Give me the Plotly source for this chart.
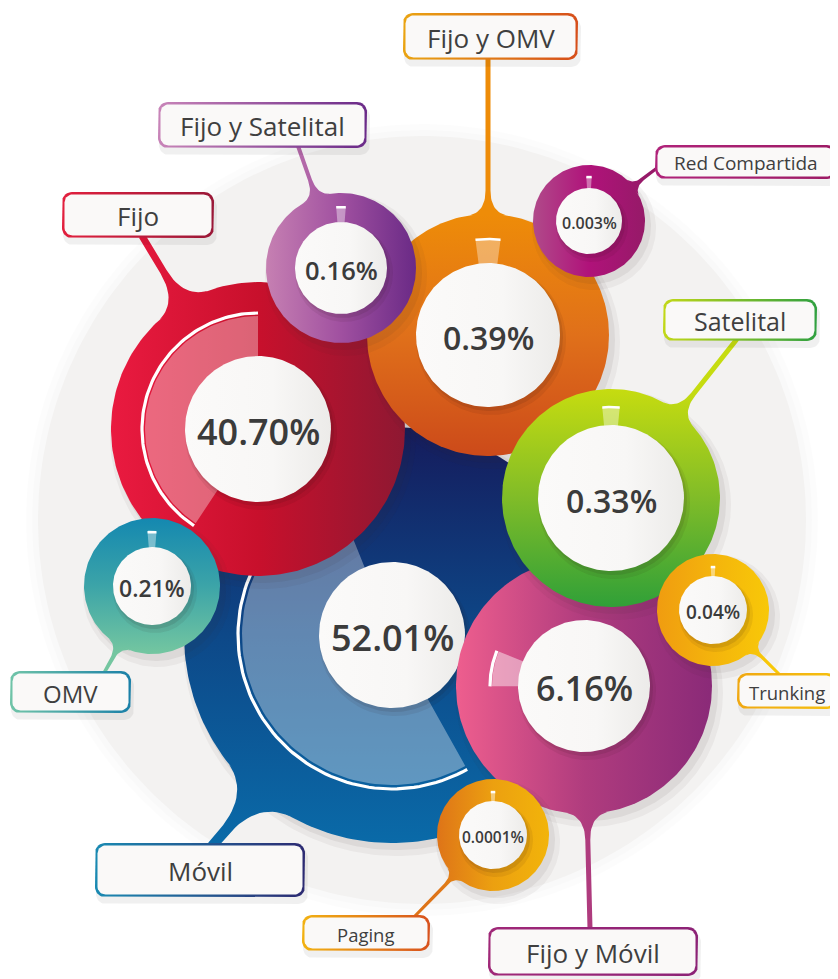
import numpy as np
import plotly.graph_objects as go

W, H = 838, 979
M = 8  # margen por defecto del <body> de la página

# datos: participación por tipo de concesión (%)
categorias = ['Móvil', 'Fijo', 'Fijo y OMV', 'Fijo y Satelital', 'Fijo y Móvil',
              'Satelital', 'Red Compartida', 'Trunking', 'Paging', 'OMV']
porcentajes = [52.01, 40.70, 0.39, 0.16, 6.16, 0.33, 0.003, 0.04, 0.0001, 0.21]

# geometria de cada burbuja (px): cx, cy, radio, radio blanco, radio cuña, arco blanco, inicio cuña, ancho min, fuente
burbujas = {
    'Móvil':            (392, 635, 208, 73, 150, 154, 22, 0, 36),
    'Fijo':             (258, 429, 147, 73, 113, 116, 0, 0, 36),
    'Fijo y OMV':       (488, 335, 121, 72, 96, None, None, 15, 32),
    'Fijo y Satelital': (341, 268, 75, 46, 61, None, None, 9, 25.5),
    'Fijo y Móvil':     (584, 686, 128, 66, 92, 94, 68, 0, 34),
    'Satelital':        (611, 498, 109, 73, 91, None, None, 11, 32),
    'Red Compartida':   (589, 221, 56, 33, 44, None, None, 7, 16),
    'Trunking':         (713, 610, 56, 34, 43, None, None, 6, 19),
    'Paging':           (493, 835, 56, 34, 43, None, None, 6, 15.5),
    'OMV':              (152, 586, 68, 39, 54, None, None, 9.5, 23),
}

# cajas de etiqueta: x0, y0, x1, y1, fuente ; extremo del tallo, grosor, apertura del cuello
cajas = {
    'Móvil':            ((95, 843, 305, 897, 26), (212, 846), 10, 40),
    'Fijo':             ((62, 192, 214, 238, 26), (142, 236), 7, 28),
    'Fijo y OMV':       ((403, 13, 578, 60, 26), (488, 58), 5, 18),
    'Fijo y Satelital': ((158, 102, 367, 148, 26), (298, 146), 4, 14),
    'Fijo y Móvil':     ((488, 927, 698, 976, 26), (590, 929), 5, 20),
    'Satelital':        ((663, 299, 817, 341, 25), (737, 339), 5, 18),
    'Red Compartida':   ((655, 145, 837, 179, 19), (657, 168), 3, 10),
    'Trunking':         ((737, 673, 837, 709, 18.5), (780, 675), 3, 10),
    'Paging':           ((302, 915, 430, 951, 18.5), (414, 917), 3, 10),
    'OMV':              ((10, 671, 131, 713, 24), (104, 673), 3.5, 12),
}

# colores: (tipo de degradado, escala burbuja, escala borde caja, alfa cuña)
estilos = {
    'Móvil':            ('vertical', ['#151b5c', '#0d4888', '#0a6aa8'], ['#1a8ab2', '#2c2a72'], 0.35),
    'Fijo':             ('horizontal', ['#ea1a40', '#c8102c', '#8e1832'], ['#e2203e', '#9a1838'], 0.35),
    'Fijo y OMV':       ('vertical', ['#ee8c08', '#e0701a', '#cc4a1a'], ['#eaa412', '#d64e1a'], 0.35),
    'Fijo y Satelital': ('horizontal', ['#c680b2', '#a050a0', '#6a2a86'], ['#c884b8', '#6a2a88'], 0.4),
    'Fijo y Móvil':     ('horizontal', ['#ee5e8e', '#b03c7e', '#8a2a78'], ['#a02878', '#8c2276'], 0.45),
    'Satelital':        ('vertical', ['#c6dc10', '#80bc28', '#30a038'], ['#c2d818', '#30a040'], 0.4),
    'Red Compartida':   ('horizontal', ['#b04a8a', '#b0127a', '#961a68'], ['#b0237a', '#9c1a64'], 0.4),
    'Trunking':         ('horizontal', ['#f09c10', '#f4b40c', '#f8c808'], ['#f0a812', '#f6c00e'], 0.45),
    'Paging':           ('horizontal', ['#de7418', '#eca010', '#f2b40a'], ['#f2b212', '#d8521e'], 0.45),
    'OMV':              ('vertical', ['#1488b0', '#3ca4a8', '#74c6a0'], ['#70c4a8', '#1a80a8'], 0.4),
}

fig = go.Figure()


def escala(cols):
    return [[i / (len(cols) - 1), c] for i, c in enumerate(cols)]


def area(x, y, color=None, grad=None):
    kw = dict(x=x, y=y, mode='lines', line=dict(width=0), fill='toself',
              hoverinfo='skip', showlegend=False)
    if grad is not None:
        kw['fillgradient'] = grad
    else:
        kw['fillcolor'] = color
    fig.add_trace(go.Scatter(**kw))


def circulo(cx, cy, r, n=240):
    t = np.linspace(0, 2 * np.pi, n)
    return cx + r * np.cos(t), cy + r * np.sin(t)


def polar(cx, cy, r, ang):
    # ang en grados, antihorario desde las 12
    a = np.radians(ang)
    return cx - r * np.sin(a), cy - r * np.cos(a)


def sector(cx, cy, r0, r1, a0, a1, n=90):
    a = np.linspace(a0, a1, n)
    xo, yo = polar(cx, cy, r1, a)
    xi, yi = polar(cx, cy, r0, a[::-1])
    return np.r_[xo, xi, xo[:1]], np.r_[yo, yi, yo[:1]]


def rrect(x0, y0, x1, y1, rad, n=10):
    xs, ys = [], []
    for ccx, ccy, a0 in [(x1 - rad, y0 + rad, -90), (x1 - rad, y1 - rad, 0),
                         (x0 + rad, y1 - rad, 90), (x0 + rad, y0 + rad, 180)]:
        t = np.radians(np.linspace(a0, a0 + 90, n))
        xs += list(ccx + rad * np.cos(t))
        ys += list(ccy + rad * np.sin(t))
    return xs + xs[:1], ys + ys[:1]


def bezier(p0, k, p1, n=16):
    t = np.linspace(0, 1, n)[:, None]
    return (1 - t) ** 2 * p0 + 2 * (1 - t) * t * k + t ** 2 * p1


def cuello(cx, cy, R, fin, w, s):
    c = np.array([cx, cy], float)
    e = np.array(fin, float)
    u = (e - c) / np.linalg.norm(e - c)
    v = np.array([-u[1], u[0]])
    d = np.sqrt(R ** 2 - s ** 2)
    h = s * 1.3
    pts = []
    for sg in (1, -1):
        p = c + d * u + sg * s * v
        st = c + (R + h) * u + sg * w / 2 * v
        k = c + (R + 0.12 * h) * u + sg * w / 2 * v
        pts.append((p, bezier(p, k, st), e + sg * w / 2 * v))
    (p1, b1, e1), (p2, b2, e2) = pts
    poly = np.vstack([b1, e1, e2, b2[::-1], p1])
    return poly[:, 0], poly[:, 1]


def grad_burbuja(nombre):
    cx, cy, R = burbujas[nombre][:3]
    tipo, cols = estilos[nombre][0], estilos[nombre][1]
    if tipo == 'horizontal':
        a, b = cx - R, cx + R
    else:
        a, b = cy - R, cy + R
    return dict(type=tipo, colorscale=escala(cols), start=a, stop=b)


def etiqueta_pct(v):
    return ('{:.2f}'.format(v) if v >= 0.01 else '{:g}'.format(v)) + '%'


# fondo circular gris claro
for r, col in [(396, 'rgba(0,0,0,0.010)'), (390, 'rgba(0,0,0,0.012)'), (384, '#f3f2f1')]:
    area(*circulo(422, 520, r), color=col)

anots = []
for nombre, pct in zip(categorias, porcentajes):
    cx, cy, R, ri, rw, ra, a0, dmin, fs = burbujas[nombre]
    alfa = estilos[nombre][3]
    g = grad_burbuja(nombre)
    # sombra
    area(*circulo(cx + 5, cy + 7, R + 6), color='rgba(60,40,40,0.05)')
    area(*circulo(cx + 4, cy + 5, R + 2), color='rgba(60,40,40,0.07)')
    # cuello y tallo
    caja, fin, w, s = cajas[nombre]
    area(*cuello(cx, cy, R, fin, w, s), grad=g)
    # burbuja
    area(*circulo(cx, cy, R), grad=g)
    # cuña proporcional al porcentaje
    ang = max(pct * 3.6, dmin)
    if a0 is None:
        a0 = -ang / 2
    a1 = a0 + ang
    area(*sector(cx, cy, ri - 2, rw, a0, a1), color='rgba(255,255,255,%.2f)' % alfa)
    xa, ya = polar(cx, cy, ra if ra else rw, np.linspace(a0, a1, 90))
    fig.add_trace(go.Scatter(x=xa, y=ya, mode='lines', hoverinfo='skip', showlegend=False,
                             line=dict(color='white', width=3.2 if ra else 2.5)))
    # círculo blanco central con sombra
    area(*circulo(cx + 3, cy + 5, ri + 3), color='rgba(40,20,20,0.07)')
    area(*circulo(cx + 2, cy + 3, ri + 1), color='rgba(40,20,20,0.10)')
    area(*circulo(cx, cy, ri), grad=dict(type='horizontal',
                                         colorscale=[[0, '#fbfaf9'], [0.6, '#f8f7f6'], [1, '#ecebe9']],
                                         start=cx - ri, stop=cx + ri))
    anots.append(dict(x=cx, y=cy + 2, text=etiqueta_pct(pct), showarrow=False,
                      font=dict(family='Open Sans', size=fs, color='#3b3b3b', weight=600)))

# cajas de etiqueta
for nombre in categorias:
    (x0, y0, x1, y1, fs), fin, w, s = cajas[nombre]
    area(*rrect(x0 + 1, y0 + 5, x1 + 3, y1 + 7, 10), color='rgba(0,0,0,0.06)')
    area(*rrect(x0, y0, x1, y1, 10), grad=dict(type='horizontal', colorscale=escala(estilos[nombre][2]),
                                                start=x0, stop=x1))
    area(*rrect(x0 + 2.5, y0 + 2.5, x1 - 2.5, y1 - 2.5, 8), color='#faf9f8')
    anots.append(dict(x=(x0 + x1) / 2, y=(y0 + y1) / 2 + 1, text=nombre, showarrow=False,
                      font=dict(family='Open Sans', size=fs, color='#3f3f3f')))

fig.update_layout(
    width=W - M, height=H - M, margin=dict(l=0, r=0, t=0, b=0),
    paper_bgcolor='white', plot_bgcolor='white',
    xaxis=dict(range=[M, W], visible=False, fixedrange=True),
    yaxis=dict(range=[H, M], visible=False, fixedrange=True),
    annotations=anots, showlegend=False,
)

fig.write_html("out.html")
